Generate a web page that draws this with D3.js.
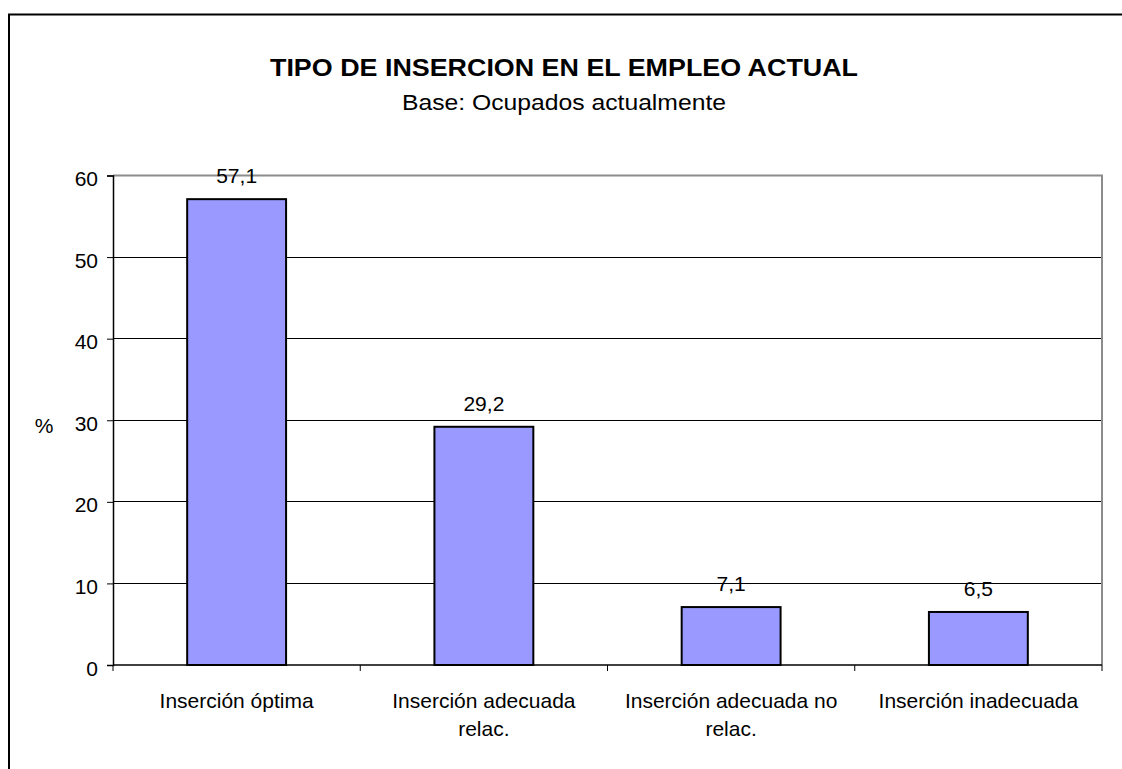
<!DOCTYPE html>
<html>
<head>
<meta charset="utf-8">
<script src="https://cdn.jsdelivr.net/npm/d3@7"></script>
<style>
  html, body { margin: 0; padding: 0; background: #fff; }
  svg { display: block; font-family: Arial, "Liberation Sans", sans-serif; }
</style>
</head>
<body>
<svg id="chart" width="1122" height="769"></svg>
<script>
const categories = [
  ["Inserción óptima"],
  ["Inserción adecuada", "relac."],
  ["Inserción adecuada no", "relac."],
  ["Inserción inadecuada"]
];
const values = [57.1, 29.2, 7.1, 6.5];
const valueLabels = ["57,1", "29,2", "7,1", "6,5"];
const yTicks = [0, 10, 20, 30, 40, 50, 60];
const title = "TIPO DE INSERCION EN EL EMPLEO ACTUAL";
const subtitle = "Base: Ocupados actualmente";
const yTitle = "%";

const svg = d3.select("#chart");
const plot = { left: 113, right: 1102, top: 175.5, bottom: 665 };

// outer frame
svg.append("rect")
  .attr("x", 9).attr("y", 14.5).attr("width", 1300).attr("height", 1000)
  .attr("fill", "none").attr("stroke", "#000").attr("stroke-width", 2);

// titles
svg.append("text").attr("x", 564).attr("y", 76)
  .attr("text-anchor", "middle").attr("font-weight", "bold").attr("font-size", 24)
  .attr("textLength", 588).attr("lengthAdjust", "spacingAndGlyphs")
  .text(title);
svg.append("text").attr("x", 564).attr("y", 110)
  .attr("text-anchor", "middle").attr("font-size", 22)
  .attr("textLength", 324).attr("lengthAdjust", "spacingAndGlyphs")
  .text(subtitle);

const keys = categories.map((c, i) => i);
const x = d3.scaleBand().domain(keys).range([plot.left, plot.right])
  .paddingInner(0.6).paddingOuter(0.3);
const y = d3.scaleLinear().domain([0, 60]).range([plot.bottom, plot.top]);

// gridlines
svg.append("g").selectAll("line").data(yTicks.filter(t => t > 0 && t < 60)).join("line")
  .attr("x1", plot.left).attr("x2", plot.right)
  .attr("y1", d => y(d)).attr("y2", d => y(d))
  .attr("stroke", "#000").attr("stroke-width", 1).attr("shape-rendering", "crispEdges");

// plot border (top and right, gray)
svg.append("path")
  .attr("d", `M${plot.left},${y(60)}H${plot.right}V${plot.bottom}`)
  .attr("fill", "none").attr("stroke", "#8c8c8c").attr("stroke-width", 2);

// bars
svg.append("g").selectAll("rect").data(values).join("rect")
  .attr("x", (d, i) => x(i)).attr("width", x.bandwidth())
  .attr("y", d => y(d)).attr("height", d => y(0) - y(d))
  .attr("fill", "#9999FF").attr("stroke", "#000").attr("stroke-width", 2);

// value labels
svg.append("g").selectAll("text").data(values).join("text")
  .attr("x", (d, i) => x(i) + x.bandwidth() / 2)
  .attr("y", d => y(d) - 16)
  .attr("text-anchor", "middle").attr("font-size", 21)
  .text((d, i) => valueLabels[i]);

// y axis
const yAxis = d3.axisLeft(y).tickValues(yTicks).tickSize(6).tickPadding(9)
  .tickFormat(d3.format("d"));
const gy = svg.append("g").attr("transform", `translate(${plot.left},0)`).call(yAxis);
gy.select(".domain").attr("stroke", "#000").attr("stroke-width", 1.5);
gy.selectAll(".tick line").attr("stroke", "#000");
gy.selectAll(".tick text").attr("font-size", 21).attr("font-family", "Arial, 'Liberation Sans', sans-serif")
  .attr("fill", "#000").attr("dy", "0.48em");

// x axis line
svg.append("line").attr("x1", plot.left).attr("x2", plot.right)
  .attr("y1", plot.bottom).attr("y2", plot.bottom)
  .attr("stroke", "#000").attr("stroke-width", 1.5);

// x ticks at category boundaries
const step = x.step();
const boundaries = keys.map(i => plot.left + i * step).concat([plot.right]);
svg.append("g").selectAll("line").data(boundaries).join("line")
  .attr("x1", d => d).attr("x2", d => d)
  .attr("y1", plot.bottom).attr("y2", plot.bottom + 6)
  .attr("stroke", "#000").attr("stroke-width", 1);

// x labels
const xl = svg.append("g").selectAll("text").data(categories).join("text")
  .attr("x", (d, i) => x(i) + x.bandwidth() / 2)
  .attr("y", 708)
  .attr("text-anchor", "middle").attr("font-size", 21);
xl.selectAll("tspan").data(d => d).join("tspan")
  .attr("x", function() { return d3.select(this.parentNode).attr("x"); })
  .attr("dy", (d, j) => j === 0 ? 0 : 28)
  .text(d => d);

// y title
svg.append("text").attr("x", 44).attr("y", 433)
  .attr("text-anchor", "middle").attr("font-size", 21).text(yTitle);
</script>
</body>
</html>
